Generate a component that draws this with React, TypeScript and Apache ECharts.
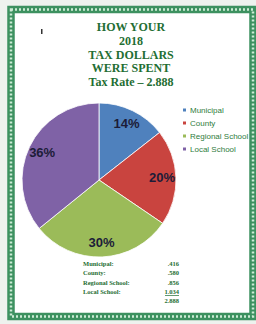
import React, { useEffect, useRef } from "react";
import * as echarts from "echarts";

const titleLines = ["HOW YOUR", "2018", "TAX DOLLARS", "WERE SPENT", "Tax Rate \u2013 2.888"];
const categories = ["Municipal", "County", "Regional School", "Local School"];
const tableLabels = ["Municipal:", "County:", "Regional School:", "Local School:"];
const rates = [0.416, 0.58, 0.856, 1.034];
const rateText = [".416", ".580", ".856", "1.034"];
const totalText = "2.888";
const colors = ["#4f81bd", "#c9443f", "#9bbb59", "#7f62a6"];

const GREEN = "#1f6e33";

export default function App() {
  const ref = useRef<HTMLDivElement>(null);
  useEffect(() => {
    if (!ref.current) return;
    const chart = echarts.init(ref.current, null, { renderer: "svg" });
    const total = rates.reduce((a, b) => a + b, 0);
    const data = categories.map((c, i) => ({ name: c, value: rates[i], itemStyle: { color: colors[i] } }));

    const graphics: any[] = [
      { type: "rect", z: 0, shape: { x: 11, y: 9.5, width: 242, height: 307 }, style: { fill: "#ffffff", stroke: "#3d9160", lineWidth: 7.5 } },
      { type: "rect", z: 1, shape: { x: 11, y: 9.5, width: 242, height: 307 }, style: { fill: "none", stroke: "#cdebd5", lineWidth: 2.5, lineDash: [2, 2] } },
      { type: "rect", z: 2, shape: { x: 41, y: 29, width: 1.5, height: 5 }, style: { fill: "#333" } },
    ];
    titleLines.forEach((t, i) => {
      graphics.push({
        type: "text",
        z: 5,
        x: 131,
        y: 27 + i * 13.8,
        style: {
          text: t,
          fill: GREEN,
          font: "bold 12px 'Liberation Serif', 'DejaVu Serif', serif",
          align: "center",
          verticalAlign: "middle",
        },
      });
    });
    const rowY = (i: number) => 263 + i * 9.5;
    tableLabels.forEach((t, i) => {
      graphics.push({
        type: "text", z: 5, x: 83, y: rowY(i),
        style: { text: t, fill: GREEN, font: "bold 6.5px 'Liberation Serif', serif", align: "left", verticalAlign: "middle" },
      });
      graphics.push({
        type: "text", z: 5, x: 179, y: rowY(i),
        style: { text: rateText[i], fill: GREEN, font: "bold 6.5px 'Liberation Serif', serif", align: "right", verticalAlign: "middle" },
      });
    });
    graphics.push({
      type: "line", z: 5,
      shape: { x1: 165, y1: rowY(3) + 4, x2: 179, y2: rowY(3) + 4 },
      style: { stroke: GREEN, lineWidth: 0.7 },
    });
    graphics.push({
      type: "text", z: 5, x: 179, y: rowY(4) - 1,
      style: { text: totalText, fill: GREEN, font: "bold 6.5px 'Liberation Serif', serif", align: "right", verticalAlign: "middle" },
    });

    chart.setOption({
      animation: false,
      graphic: graphics,
      legend: {
        orient: "vertical",
        left: 176,
        top: 101,
        itemWidth: 5,
        itemHeight: 5,
        itemGap: 5,
        icon: "rect",
        data: categories,
        textStyle: { fontSize: 8, lineHeight: 8, color: "#2f7d40", fontFamily: "'Liberation Sans', Arial, sans-serif", padding: [0, 0, 0, -2] },
      },
      series: [
        {
          type: "pie",
          center: [99, 180],
          radius: [0, 77],
          startAngle: 90,
          silent: true,
          label: { show: false },
          labelLine: { show: false },
          itemStyle: { borderColor: "#ffffff", borderWidth: 0.8 },
          data,
        },
        {
          type: "pie",
          center: [99, 180],
          radius: [42, 78],
          startAngle: 90,
          silent: true,
          z: 10,
          itemStyle: { color: "rgba(0,0,0,0)", borderWidth: 0 },
          label: {
            show: true,
            position: "inside",
            formatter: (p: any) => Math.round((p.value / total) * 100) + "%",
            fontSize: 13,
            fontWeight: "bold",
            color: "#1c1c38",
            fontFamily: "'Liberation Sans', Arial, sans-serif",
          },
          labelLine: { show: false },
          data: categories.map((c, i) => ({ name: c + " label", value: rates[i] })),
        },
      ],
    });
    return () => chart.dispose();
  }, []);
  return (
    <div
      ref={ref}
      style={{ position: "fixed", left: 0, top: 0, width: 256, height: 324, background: "#eef2ee" }}
    />
  );
}
